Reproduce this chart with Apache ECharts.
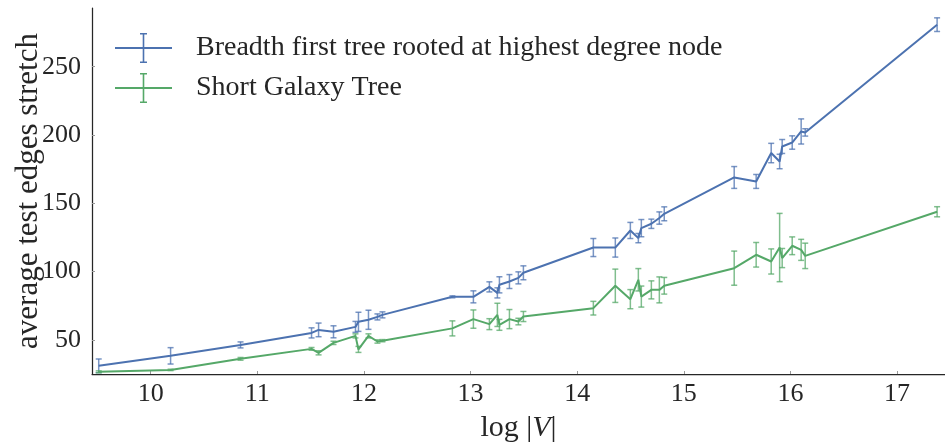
<!DOCTYPE html>
<html>
<head>
<meta charset="utf-8">
<script src="https://cdn.jsdelivr.net/npm/echarts@6/dist/echarts.min.js"></script>
<style>
    html, body { margin: 0; padding: 0; background: #fff; }
    #stretch_chart { width: 945px; height: 447px; }
</style>
</head>
<body>
<div id="stretch_chart"></div>
<script>
    // log|V| for each graph (shared by both series)
    const logV = [9.513, 10.187, 10.843, 11.509, 11.575, 11.715, 11.921, 11.949, 12.043, 12.127, 12.174,
        12.830, 13.027, 13.177, 13.252, 13.271, 13.365, 13.449, 13.496, 14.152, 14.358, 14.499,
        14.574, 14.602, 14.696, 14.771, 14.817, 15.473, 15.679, 15.820, 15.899, 15.923, 16.017,
        16.101, 16.139, 17.376];

    const bfsMean = [31.0, 38.3, 46.3, 55.1, 57.3, 55.9, 59.5, 63.2, 64.7, 66.8, 68.3,
        81.5, 81.5, 88.8, 84.4, 90.3, 92.7, 95.4, 99.1, 117.6, 117.6, 130.1,
        124.5, 131.8, 135.0, 139.2, 142.3, 168.9, 166.0, 186.8, 180.6, 191.6, 194.5,
        202.6, 201.9, 280.8];
    const bfsErr = [5, 6, 2.2, 3.7, 5, 4.4, 4, 7, 7, 2.2, 2.2,
        0.7, 4.4, 3.7, 3.7, 5.9, 5.1, 4.4, 5.1, 6.6, 7, 5.9,
        3.4, 6.3, 3.4, 4.5, 5.1, 8, 5.1, 7.1, 5.3, 5.1, 4.9,
        9.2, 2.7, 5];

    const galaxyMean = [26.6, 28.0, 36.1, 43.4, 40.5, 47.8, 52.9, 43.0, 52.9, 48.8, 49.4,
        58.4, 65.2, 61.5, 68.3, 61.0, 65.2, 63.4, 67.1, 73.2, 89.6, 79.8,
        94.0, 81.7, 86.6, 86.6, 89.6, 102.5, 112.3, 107.4, 117.6, 109.9, 118.9,
        115.9, 111.5, 143.8];
    const galaxyErr = [0.7, 0.5, 1, 1, 1.5, 1.2, 1.5, 2.2, 1.5, 1.2, 0.8,
        5.5, 6.7, 4, 8.5, 4, 7, 2.4, 3.7, 5, 12.2, 7,
        8.2, 7.7, 6.6, 9.5, 6.1, 12.5, 9, 9.2, 25, 7, 6.5,
        7.7, 9.3, 3.7];

    const seriesNames = ['Breadth first tree rooted at highest degree node', 'Short Galaxy Tree'];
    const seriesColors = ['#4c72b0', '#55a868'];

    const serif = "'Liberation Serif', 'DejaVu Serif', serif";
    const textColor = '#262626';

    // legend icon: a line crossed by an error bar
    const crossIcon = 'path://M0,14.1 H57 V15.9 H0 Z M27.7,0 H29.3 V30 H27.7 Z M25,0 H32 V1.5 H25 Z M25,28.5 H32 V30 H25 Z';

    function linePoints(means) {
        return logV.map((x, i) => [x, means[i]]);
    }

    function barPoints(means, errs) {
        return logV.map((x, i) => [x, means[i], errs[i]]);
    }

    function errorBars(color) {
        return function (params, api) {
            const x = api.value(0);
            const y = api.value(1);
            const e = api.value(2);
            const lo = api.coord([x, y - e]);
            const hi = api.coord([x, y + e]);
            const half = 3;
            const style = { stroke: color, lineWidth: 1.5, opacity: 0.75 };
            return {
                type: 'group',
                children: [
                    { type: 'line', shape: { x1: lo[0], y1: lo[1], x2: hi[0], y2: hi[1] }, style: style },
                    { type: 'line', shape: { x1: hi[0] - half, y1: hi[1], x2: hi[0] + half, y2: hi[1] }, style: style },
                    { type: 'line', shape: { x1: lo[0] - half, y1: lo[1], x2: lo[0] + half, y2: lo[1] }, style: style }
                ]
            };
        };
    }

    const means = [bfsMean, galaxyMean];
    const errs = [bfsErr, galaxyErr];
    const series = [];
    seriesNames.forEach((name, k) => {
        series.push({
            name: name,
            type: 'line',
            data: linePoints(means[k]),
            showSymbol: false,
            symbol: 'none',
            lineStyle: { color: seriesColors[k], width: 2 },
            itemStyle: { color: seriesColors[k] },
            z: 3
        });
        series.push({
            name: name,
            type: 'custom',
            data: barPoints(means[k], errs[k]),
            encode: { x: 0, y: 1 },
            renderItem: errorBars(seriesColors[k]),
            z: 2
        });
    });

    const option = {
        backgroundColor: '#fff',
        animation: false,
        grid: {
            left: 92,
            right: 0,
            top: 8,
            bottom: 73,
            outerBoundsMode: 'none',
            containLabel: false
        },
        legend: {
            orient: 'vertical',
            left: 110,
            top: 28,
            itemWidth: 57,
            itemHeight: 30,
            itemGap: 10,
            data: seriesNames.map((n) => ({ name: n, icon: crossIcon })),
            textStyle: {
                fontFamily: serif,
                fontSize: 28,
                color: textColor,
                padding: [0, 0, 0, 19]
            }
        },
        xAxis: {
            type: 'value',
            min: 9.45,
            max: 17.45,
            splitNumber: 8,
            minInterval: 1,
            maxInterval: 1,
            name: '{n|log }{b||}{v|V}{b||}',
            nameLocation: 'middle',
            nameGap: 39,
            nameMoveOverlap: false,
            nameTextStyle: {
                fontFamily: serif,
                fontSize: 30,
                color: textColor,
                rich: {
                    n: { fontFamily: serif, fontSize: 30, color: textColor },
                    b: { fontFamily: serif, fontSize: 30, color: textColor },
                    v: { fontFamily: serif, fontSize: 30, color: textColor, fontStyle: 'italic' }
                }
            },
            axisLine: { lineStyle: { color: textColor, width: 1.25 } },
            axisTick: { show: true, inside: true, length: 3, lineStyle: { color: '#999' } },
            axisLabel: {
                showMinLabel: false,
                showMaxLabel: false,
                fontFamily: serif,
                fontSize: 26,
                color: textColor,
                margin: 7
            },
            splitLine: { show: false }
        },
        yAxis: {
            type: 'value',
            min: 25,
            max: 293,
            splitNumber: 5,
            minInterval: 50,
            maxInterval: 50,
            name: 'average test edges stretch',
            nameLocation: 'middle',
            nameGap: 48,
            nameMoveOverlap: false,
            nameTextStyle: {
                fontFamily: serif,
                fontSize: 31,
                color: textColor
            },
            axisLine: { show: true, lineStyle: { color: textColor, width: 1.25 } },
            axisTick: { show: true, inside: true, length: 3, lineStyle: { color: '#999' } },
            axisLabel: {
                showMinLabel: false,
                showMaxLabel: false,
                fontFamily: serif,
                fontSize: 26,
                color: textColor,
                margin: 11
            },
            splitLine: { show: false }
        },
        series: series
    };

    const stretchChart = echarts.init(document.getElementById('stretch_chart'));
    stretchChart.setOption(option);

    window.addEventListener('resize', function () {
        stretchChart.resize();
    });
</script>
</body>
</html>
